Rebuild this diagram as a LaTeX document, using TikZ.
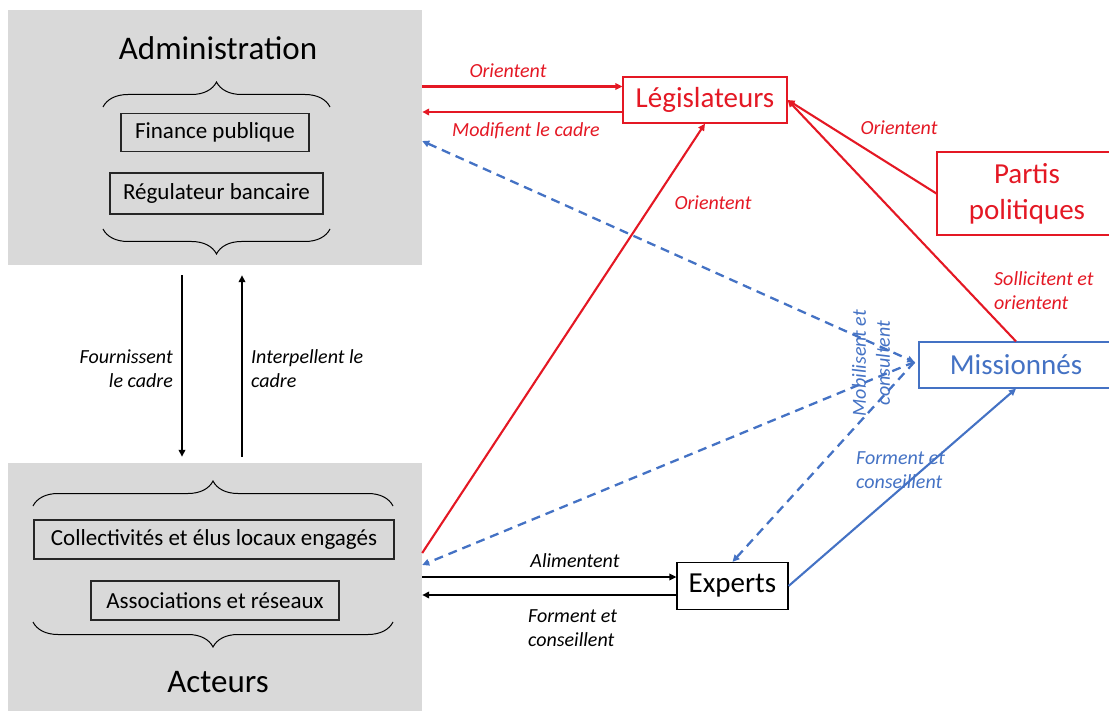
\documentclass[tikz,border=0pt]{standalone}
\usepackage{fontspec}
\setmainfont{Carlito}
\usetikzlibrary{arrows.meta,decorations.pathreplacing}
\definecolor{legred}{RGB}{228,24,36}
\definecolor{legblue}{RGB}{68,114,196}
\definecolor{boxgray}{RGB}{217,217,217}
\begin{document}
\begin{tikzpicture}[x=1pt,y=-1pt,>={Triangle[length=7pt,width=6.5pt]},
	bloc/.style={fill=boxgray,draw=none,inner sep=0pt},
	cadre/.style={draw=black!85,line width=1.1pt,inner sep=0pt,font=\fontsize{23}{27}\selectfont},
	acteur/.style={draw,line width=1.2pt,fill=white,inner sep=0pt,align=center,font=\fontsize{29}{36}\selectfont},
	lbl/.style={font=\itshape\fontsize{20}{24}\selectfont,align=left,inner sep=0pt},
	fl/.style={line width=2.1pt,->},
	pointille/.style={line width=2.3pt,legblue,dash pattern=on 9pt off 6pt},
	accol/.style={decorate,decoration={brace,amplitude=25pt},line width=1pt}]
	\useasboundingbox (0,0) rectangle (1109,711);

	% blocs gris
	\node[bloc,minimum width=414pt,minimum height=255pt] (admin) at (215,137.5) {};
	\node[bloc,minimum width=414pt,minimum height=248pt] (acteurs) at (215,587) {};

	\node[font=\fontsize{33}{40}\selectfont] (admtitre) at (218,48) {Administration};
	\draw[accol] (103,107) -- (330,107);
	\node[cadre,minimum width=188pt,minimum height=38pt] (finpub) at (215,132.5) {Finance publique};
	\node[cadre,minimum width=213pt,minimum height=41pt] (regban) at (216.5,193.5) {Régulateur bancaire};
	\draw[accol] (330,229) -- (103,229);

	\draw[accol] (33,506) -- (393,506);
	\node[cadre,minimum width=360pt,minimum height=39pt] (collec) at (214,539.5) {Collectivités et élus locaux engagés};
	\node[cadre,minimum width=248pt,minimum height=39pt] (assoc) at (215,600.5) {Associations et réseaux};
	\draw[accol] (393,622) -- (33,622);
	\node[font=\fontsize{33}{40}\selectfont] (acttitre) at (218,682) {Acteurs};

	% acteurs a droite
	\node[acteur,draw=legred,text=legred,minimum width=164pt,minimum height=46pt] (legis) at (705,100) {Législateurs};
	\node[acteur,draw=legred,text=legred,minimum width=180pt,minimum height=83pt] (partis) at (1027,193.5) {Partis\\politiques};
	\node[acteur,draw=legblue,text=legblue,minimum width=194pt,minimum height=46pt] (mission) at (1016,365) {Missionnés};
	\node[acteur,draw=black,minimum width=111pt,minimum height=47pt] (experts) at (732.5,586) {Experts};

	% fleches
	\draw[fl] ([xshift=-33pt,yshift=-10pt]admin.south) -- ([xshift=-33pt,yshift=6pt]acteurs.north);
	\draw[fl] ([xshift=27pt,yshift=6pt]acteurs.north) -- ([xshift=27pt,yshift=-10pt]admin.south);
	\draw[fl,legred] ([yshift=51pt]admin.east) -- ([yshift=13.5pt]legis.west);
	\draw[fl,legred] ([yshift=-12pt]legis.west) -- ([yshift=25.5pt]admin.east);
	\draw[fl,legred] ([yshift=34pt]acteurs.east) -- (legis.south);
	\draw[fl,legred] (partis.west) -- (legis.east);
	\draw[fl,legred] (mission.north) -- (legis.east);
	\draw[pointille,<->] ([yshift=-3.5pt]admin.east) -- ([xshift=-4pt,yshift=3pt]mission.west);
	\draw[pointille,->] ([xshift=-4pt,yshift=3pt]mission.west) -- ([yshift=22pt]acteurs.east);
	\draw[pointille,->] ([xshift=-4pt,yshift=3pt]mission.west) -- (experts.north);
	\draw[fl,legblue] (experts.east) -- (mission.south);
	\draw[fl] ([yshift=10pt]acteurs.east) -- ([yshift=9pt]experts.west);
	\draw[fl] ([yshift=-9pt]experts.west) -- ([yshift=-8pt]acteurs.east);

	% etiquettes
	\node[lbl,align=right,anchor=east] (fourn) at (173,369) {Fournissent\\le cadre};
	\node[lbl,anchor=west] (interp) at (251,369) {Interpellent le\\cadre};
	\node[lbl,text=legred] (ori1) at (508,71) {Orientent};
	\node[lbl,text=legred] (modif) at (526,131) {Modifient le cadre};
	\node[lbl,text=legred] (ori2) at (713,203) {Orientent};
	\node[lbl,text=legred] (ori3) at (899,128) {Orientent};
	\node[lbl,text=legred,anchor=west] (sollic) at (994,291) {Sollicitent et\\orientent};
	\node[lbl,text=legblue,align=center,rotate=90] (mobil) at (871,363) {Mobilisent et\\consultent};
	\node[lbl,text=legblue,anchor=west] (forme1) at (856,470) {Forment et\\conseillent};
	\node[lbl] (alim) at (575,561) {Alimentent};
	\node[lbl,anchor=west] (forme2) at (528,628) {Forment et\\conseillent};
\end{tikzpicture}
\end{document}
